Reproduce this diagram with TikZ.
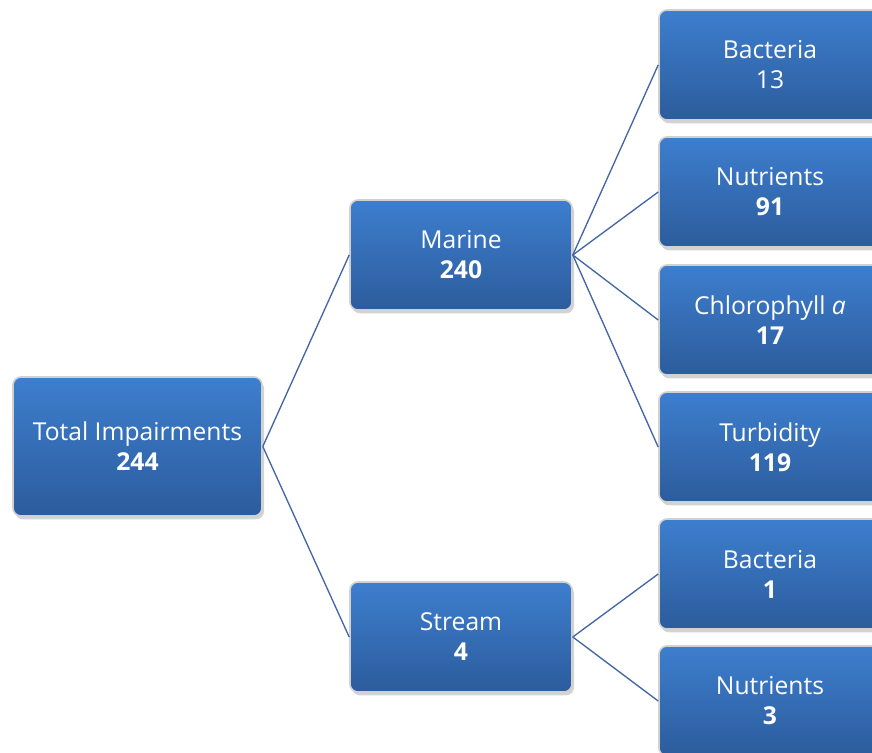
\documentclass[tikz,border=0pt]{standalone}
\usepackage{fontspec}
\setmainfont{Open Sans}
\usetikzlibrary{shadows}
\definecolor{boxtop}{RGB}{61,126,206}
\definecolor{boxbot}{RGB}{44,92,156}
\definecolor{linkcol}{RGB}{66,103,163}
\tikzset{
  item/.style={rounded corners=6pt, draw=black!18, line width=1.2pt,
    top color=boxtop, bottom color=boxbot, text=white, align=center,
    minimum width=166.5pt, minimum height=82.5pt, inner sep=0pt,
    font=\fontsize{18.5}{22.5}\selectfont,
    drop shadow={shadow xshift=1.5pt, shadow yshift=-2.5pt, opacity=.35}},
  link/.style={draw=linkcol, line width=1pt}
}
\begin{document}
\begin{tikzpicture}[x=0.75pt,y=-0.75pt]
				\useasboundingbox (0,0) rectangle (872,753);
				\clip (0,0) rectangle (872,753);
				\node[item, at={(137.5,446.5)}, minimum width=186.75pt, minimum height=104.25pt] (total) {Total Impairments\\\textbf{244}};
				\node[item, at={(461,255)}] (marine) {Marine\\\textbf{240}};
				\node[item, at={(461,637)}] (stream) {Stream\\\textbf{4}};
				\node[item, at={(770,65)}] (mbact) {Bacteria\\13};
				\node[item, at={(770,192)}] (mnutr) {Nutrients\\\textbf{91}};
				\node[item, at={(770,320)}] (mchla) {Chlorophyll \textit{a}\\\textbf{17}};
				\node[item, at={(770,447)}] (mturb) {Turbidity\\\textbf{119}};
				\node[item, at={(770,574)}] (sbact) {Bacteria\\\textbf{1}};
				\node[item, at={(770,701)}] (snutr) {Nutrients\\\textbf{3}};
				%\node[item, at={(770,828)}] {};
				\draw[link] (total.east)--(marine.west);
				\draw[link] (total.east)--(stream.west);
				\draw[link] (marine.east)--(mbact.west);
				\draw[link] (marine.east)--(mnutr.west);
				\draw[link] (marine.east)--(mchla.west);
				\draw[link] (marine.east)--(mturb.west);
				\draw[link] (stream.east)--(sbact.west);
				\draw[link] (stream.east)--(snutr.west);
\end{tikzpicture}
\end{document}
